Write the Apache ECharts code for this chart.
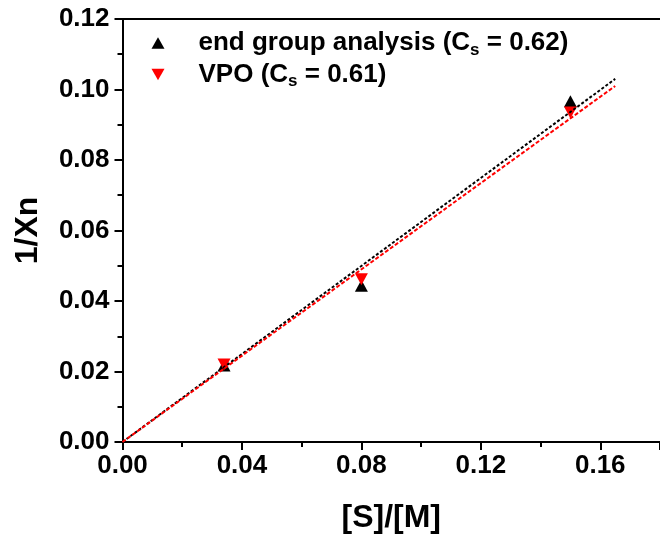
<!DOCTYPE html>
<html>
<head>
<meta charset="utf-8">
<script src="https://cdn.jsdelivr.net/npm/echarts@6/dist/echarts.min.js"></script>
<style>html,body{margin:0;padding:0;background:#fff}#c{width:660px;height:539px}</style>
</head>
<body>
<div id="c"></div>
<script>
// data
const seriesNames = ['end group analysis (Cs = 0.62)', 'VPO (Cs = 0.61)'];
const endGroupX = [0.034, 0.080, 0.150];
const endGroupY = [0.0217, 0.0443, 0.0967];
const vpoX = [0.034, 0.080, 0.150];
const vpoY = [0.0220, 0.0462, 0.0935];
const fitX = [0, 0.165];
const endGroupFitY = [0, 0.1030];
const vpoFitY = [0, 0.1010];
const xTickLabels = ['0.00', '0.04', '0.08', '0.12', '0.16'];
const yTickLabels = ['0.00', '0.02', '0.04', '0.06', '0.08', '0.10', '0.12'];

const pair = (xs, ys) => xs.map((x, i) => [x, ys[i]]);
const FONT = '"Liberation Sans", Arial, sans-serif';
const upTri = 'path://M5,0L10,9L0,9Z';
const downTri = 'path://M0,0L10,0L5,9Z';

const chart = echarts.init(document.getElementById('c'), null, {renderer: 'canvas'});
chart.setOption({
  animation: false,
  backgroundColor: '#fff',
  textStyle: {fontFamily: FONT},
  grid: {left: 122.5, top: 19, width: 544.5, height: 423, containLabel: false},
  legend: {
    orient: 'vertical', left: 151.5, top: 30, padding: 0, itemWidth: 13, itemHeight: 12, itemGap: 3,
    data: [{name: seriesNames[0], icon: upTri}, {name: seriesNames[1], icon: downTri}],
    itemStyle: {opacity: 1},
    formatter: function (n) {
      return n === seriesNames[0] ? 'end group analysis (C{sub|s} = 0.62)' : 'VPO (C{sub|s} = 0.61)';
    },
    textStyle: {fontFamily: FONT, fontSize: 26, fontWeight: 'bold', color: '#000', padding: [0, 0, 0, 29],
      rich: {sub: {fontFamily: FONT, fontSize: 17, fontWeight: 'bold', color: '#000', verticalAlign: 'bottom', padding: [14, 0, 0, 0]}}}
  },
  xAxis: [{
    type: 'value', min: 0, max: 0.18, interval: 0.04,
    axisLine: {show: true, onZero: false, lineStyle: {color: '#000', width: 2}},
    axisTick: {show: true, inside: false, length: 8, lineStyle: {color: '#000', width: 2}},
    minorTick: {show: true, splitNumber: 2, length: 5, lineStyle: {color: '#000', width: 2}},
    splitLine: {show: false},
    axisLabel: {showMaxLabel: false, margin: 11, fontFamily: FONT, fontSize: 26, fontWeight: 'bold', color: '#000',
      formatter: v => { const i = Math.round(v / 0.04); return Math.abs(v - i * 0.04) < 1e-9 ? (xTickLabels[i] || '') : ''; }},
    name: '[S]/[M]', nameLocation: 'middle', nameGap: 60,
    nameTextStyle: {fontFamily: FONT, fontSize: 32, fontWeight: 'bold', color: '#000'}
  }, {
    type: 'value', position: 'top', min: 0, max: 0.18,
    axisLine: {show: true, onZero: false, lineStyle: {color: '#000', width: 2}},
    axisTick: {show: false}, axisLabel: {show: false}, splitLine: {show: false}
  }],
  yAxis: {
    type: 'value', min: 0, max: 0.12, interval: 0.02,
    axisLine: {show: true, onZero: false, lineStyle: {color: '#000', width: 2}},
    axisTick: {show: true, inside: false, length: 8, lineStyle: {color: '#000', width: 2}},
    minorTick: {show: true, splitNumber: 2, length: 5, lineStyle: {color: '#000', width: 2}},
    splitLine: {show: false},
    axisLabel: {margin: 13, fontFamily: FONT, fontSize: 26, fontWeight: 'bold', color: '#000',
      formatter: v => { const i = Math.round(v / 0.02); return yTickLabels[i] || ''; }},
    name: '1/Xn', nameLocation: 'middle', nameGap: 78, nameRotate: 90,
    nameTextStyle: {fontFamily: FONT, fontSize: 32, fontWeight: 'bold', color: '#000'}
  },
  series: [
    {name: seriesNames[0], type: 'scatter', data: pair(endGroupX, endGroupY), symbol: upTri, symbolSize: [13, 12],
      itemStyle: {color: '#000', opacity: 1}, z: 2},
    {name: seriesNames[1], type: 'scatter', data: pair(vpoX, vpoY), symbol: downTri, symbolSize: [13, 12],
      itemStyle: {color: '#ff0000', opacity: 1}, z: 3},
    {name: 'fitA', type: 'line', data: pair(fitX, endGroupFitY), symbol: 'none', silent: true,
      lineStyle: {color: '#000', width: 2, type: [3, 2]}, z: 4},
    {name: 'fitB', type: 'line', data: pair(fitX, vpoFitY), symbol: 'none', silent: true,
      lineStyle: {color: '#ff0000', width: 2, type: [4, 2]}, z: 5}
  ]
});
</script>
</body>
</html>
